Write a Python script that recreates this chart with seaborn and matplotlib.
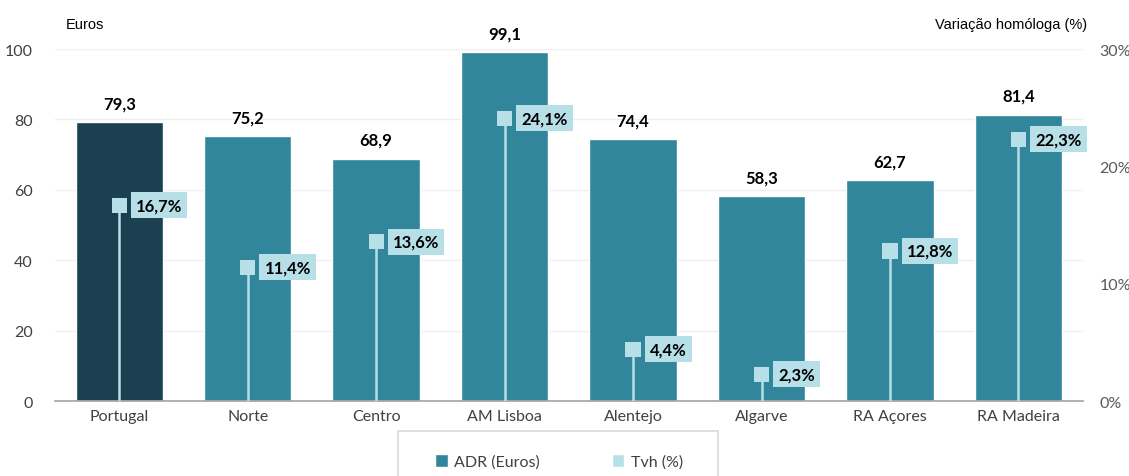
import numpy as np
import pandas as pd
import matplotlib.pyplot as plt
from matplotlib.patches import Patch, Rectangle
from matplotlib.ticker import FixedLocator
import seaborn as sns

# Data
regions = ["Portugal", "Norte", "Centro", "AM Lisboa", "Alentejo", "Algarve", "RA Açores", "RA Madeira"]
adr = [79.3, 75.2, 68.9, 99.1, 74.4, 58.3, 62.7, 81.4]
tvh = [16.7, 11.4, 13.6, 24.1, 4.4, 2.3, 12.8, 22.3]

dark = "#1b4150"
teal = "#31869b"
light = "#b7dfe8"

sns.set_theme(style="white")
plt.rcParams['font.family'] = ['Lato', 'DejaVu Sans']

df = pd.DataFrame({"region": regions, "adr": adr, "tvh": tvh})
df["grp"] = ["pt"] + ["reg"] * (len(regions) - 1)

fig = plt.figure(figsize=(11.29, 4.77), dpi=100)
ax = fig.add_axes([0.0487, 0.157, 0.9103, 0.738])

sns.barplot(data=df, x="region", y="adr", hue="grp", palette={"pt": dark, "reg": teal},
            dodge=False, width=0.68, saturation=1, legend=False, ax=ax, zorder=2)
ax.set_ylim(0, 100)
ax.set_xlim(-0.5, len(regions) - 0.5)
ax.set_yticks([0, 20, 40, 60, 80, 100])
ax.yaxis.grid(True, color="#efefef", linewidth=1, zorder=0)
ax.set_xlabel("")
ax.set_ylabel("")
for s in ["top", "right", "left"]:
    ax.spines[s].set_visible(False)
ax.spines["bottom"].set_color("#a6a6a6")
ax.tick_params(axis="y", length=0, labelsize=11.5, labelcolor="#404040", pad=16)
ax.tick_params(axis="x", length=0, labelsize=11.5, labelcolor="#404040", pad=6)
ax.xaxis.set_minor_locator(FixedLocator(np.arange(-0.5, len(regions), 1.0)))
ax.tick_params(axis="x", which="minor", length=5, color="#a6a6a6", direction="out")

for i, v in enumerate(adr):
    ax.text(i, v + 3, f"{v:.1f}".replace(".", ","), ha="center", va="bottom",
            fontsize=12, fontweight="bold", color="black")

ax2 = ax.twinx()
ax2.set_ylim(0, 30)
ax2.set_yticks([0, 10, 20, 30])
ax2.set_yticklabels(["0%", "10%", "20%", "30%"])
ax2.tick_params(axis="y", length=0, labelsize=11.5, labelcolor="#595959", pad=12)
for s in ["top", "right", "left", "bottom"]:
    ax2.spines[s].set_visible(False)
ax2.grid(False)

x = np.arange(len(regions))
ax2.vlines(x, 0, tvh, color=light, linewidth=1.8, zorder=3)
sns.scatterplot(x=x, y=tvh, marker="s", s=120, color=light, edgecolor="none",
                legend=False, ax=ax2, zorder=4)
for i, v in enumerate(tvh):
    ax2.text(i + 0.13, v, f"{v:.1f}%".replace(".", ","), ha="left", va="center",
             fontsize=12, fontweight="bold", color="black", zorder=5,
             bbox=dict(boxstyle="square,pad=0.3", facecolor=light, edgecolor="none"))

fig.text(0.058, 0.94, "Euros", fontsize=10.5, color="black", family="Liberation Sans")
fig.text(0.963, 0.94, "Variação homóloga (%)", fontsize=10.5, color="black",
         family="Liberation Sans", ha="right")

# legend box (wide frame like the reference, cut by the bottom edge)
fig.patches.append(Rectangle((398 / 1129, -0.01), 320 / 1129, 0.104, transform=fig.transFigure,
                             facecolor="white", edgecolor="#d9d9d9", linewidth=1.2))
handles = [Patch(facecolor=teal, label="ADR (Euros)"), Patch(facecolor=light, label="Tvh (%)")]
leg = fig.legend(handles=handles, loc="center", bbox_to_anchor=(0.495, 0.03), ncol=2,
                 frameon=False, fontsize=11.5, handlelength=0.8, handleheight=0.8,
                 columnspacing=4.5, borderaxespad=0, handletextpad=0.4)
for t in leg.get_texts():
    t.set_color("#404040")

fig.savefig("out.png", dpi=100)
